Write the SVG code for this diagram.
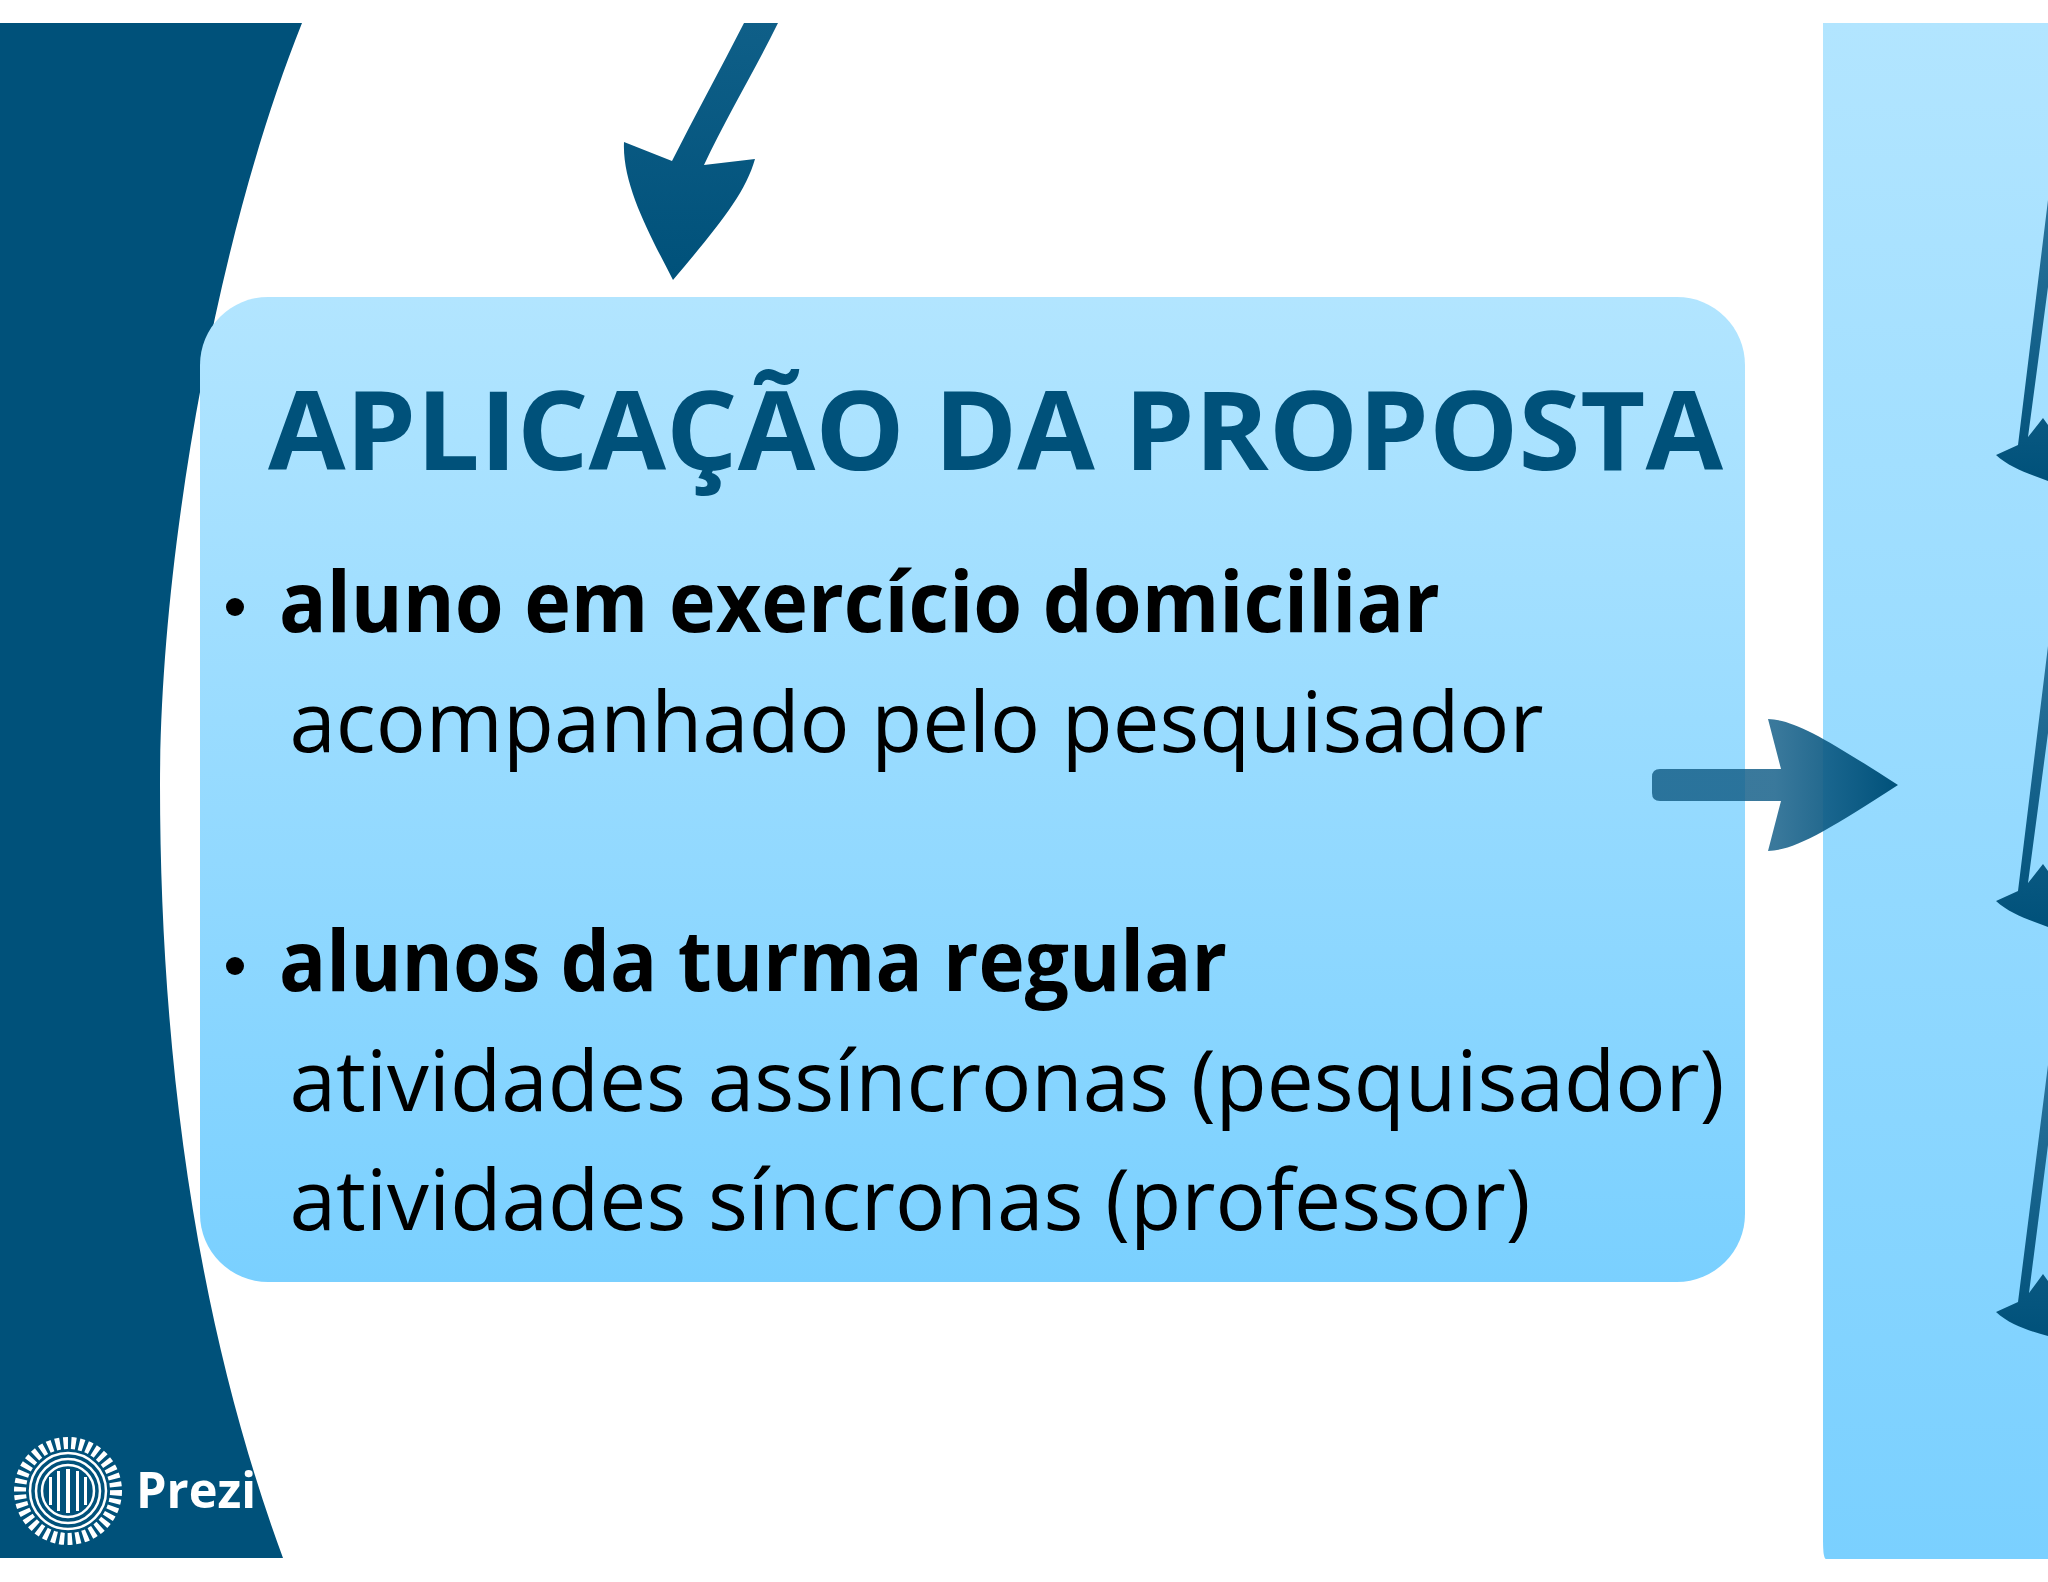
<svg xmlns="http://www.w3.org/2000/svg" width="2048" height="1582" viewBox="0 0 2048 1582">
<defs>
<linearGradient id="blue" x1="0" y1="0" x2="0" y2="1"><stop offset="0" stop-color="#b2e5ff"/><stop offset="1" stop-color="#7ad0ff"/></linearGradient>
<linearGradient id="arrowH" gradientUnits="userSpaceOnUse" x1="1652" y1="0" x2="1898" y2="0"><stop offset="0" stop-color="#17618a" stop-opacity="0.85"/><stop offset="0.5" stop-color="#17618a" stop-opacity="0.85"/><stop offset="1" stop-color="#00517a"/></linearGradient>
<linearGradient id="arrowV" x1="0" y1="0" x2="0" y2="1"><stop offset="0" stop-color="#2a739c"/><stop offset="1" stop-color="#00517a"/></linearGradient>
<linearGradient id="arrowT" x1="0" y1="0" x2="0" y2="1"><stop offset="0" stop-color="#0f5f88"/><stop offset="1" stop-color="#00517a"/></linearGradient>
</defs>
<style>
text{font-family:"Open Sans","Noto Sans",sans-serif}
.b{font-size:84px;font-weight:700;fill:#000}
.r{font-size:84px;font-weight:400;fill:#000}
.t{font-size:110px;font-weight:700;fill:#00517a}
.dark{fill:#00517a}
.ring{fill:none;stroke:#fff}
</style>
<rect width="2048" height="1582" fill="#fff"/>
<g id="left-band">
<path class="dark" d="M0 23H302C215 240 160 560 160 785C160 1050 195 1320 283 1558H0Z"/>
</g>
<g id="prezi-logo">
<circle class="ring" cx="68" cy="1491" r="48" stroke-width="12" stroke-dasharray="4.6 3.3"/>
<circle class="ring" cx="68" cy="1491" r="38" stroke-width="2.5"/>
<circle class="ring" cx="68" cy="1491" r="32" stroke-width="2.5"/>
<circle class="ring" cx="68" cy="1491" r="26" stroke-width="2.5"/>
<g fill="#fff"><rect x="49" y="1477" width="3" height="28"/><rect x="57" y="1471" width="3" height="40"/><rect x="66" y="1469" width="4" height="44"/><rect x="76" y="1471" width="3" height="40"/><rect x="84" y="1477" width="3" height="28"/></g>
<text x="136" y="1508" font-size="50" font-weight="700" fill="#fff" textLength="120" lengthAdjust="spacingAndGlyphs">Prezi</text>
</g>
<g id="right-panel"><path fill="url(#blue)" d="M1823 23H2048V1559H1826Q1823 1559 1823 1540Z"/></g>
<g id="main-box">
<rect x="200" y="297" width="1545" height="985" rx="68" fill="url(#blue)"/>
<text class="t" x="268" y="470" textLength="1455" lengthAdjust="spacingAndGlyphs">APLICAÇÃO DA PROPOSTA</text>
<circle cx="235" cy="607" r="9"/>
<text class="b" x="279" y="632" textLength="1161" lengthAdjust="spacingAndGlyphs">aluno em exercício domiciliar</text>
<text class="r" x="289.5" y="752" textLength="1254" lengthAdjust="spacingAndGlyphs">acompanhado pelo pesquisador</text>
<circle cx="235" cy="966" r="9"/>
<text class="b" x="279" y="991" textLength="948" lengthAdjust="spacingAndGlyphs">alunos da turma regular</text>
<text class="r" x="289.5" y="1111" textLength="1435" lengthAdjust="spacingAndGlyphs">atividades assíncronas (pesquisador)</text>
<text class="r" x="289.5" y="1230" textLength="1241" lengthAdjust="spacingAndGlyphs">atividades síncronas (professor)</text>
</g>
<g id="connectors">
<path fill="url(#arrowT)" d="M744 23H778C755 70 725 120 704 165L755 159C745 195 715 230 673 280C650 235 622 185 624 142L672 161C695 115 720 70 744 23Z"/>
<path fill="url(#arrowH)" d="M1660 769H1781L1768 719C1795 720 1825 738 1898 785C1825 832 1795 850 1768 851L1781 801H1660Q1652 801 1652 793V777Q1652 769 1660 769Z"/>
<g fill="url(#arrowV)">
<path id="a1" d="M2048 200L2018 445L1996 455C2010 468 2030 474 2048 481V425L2043 418L2028 437L2048 287Z"/>
<path id="a2" d="M2048 646L2018 891L1996 901C2010 914 2030 920 2048 927V871L2043 864L2028 883L2048 733Z"/>
<path id="a3" d="M2048 1065L2018 1302L1996 1312C2010 1325 2030 1331 2048 1336V1281L2043 1274L2029 1293L2048 1145Z"/>
</g>
</g>
</svg>
